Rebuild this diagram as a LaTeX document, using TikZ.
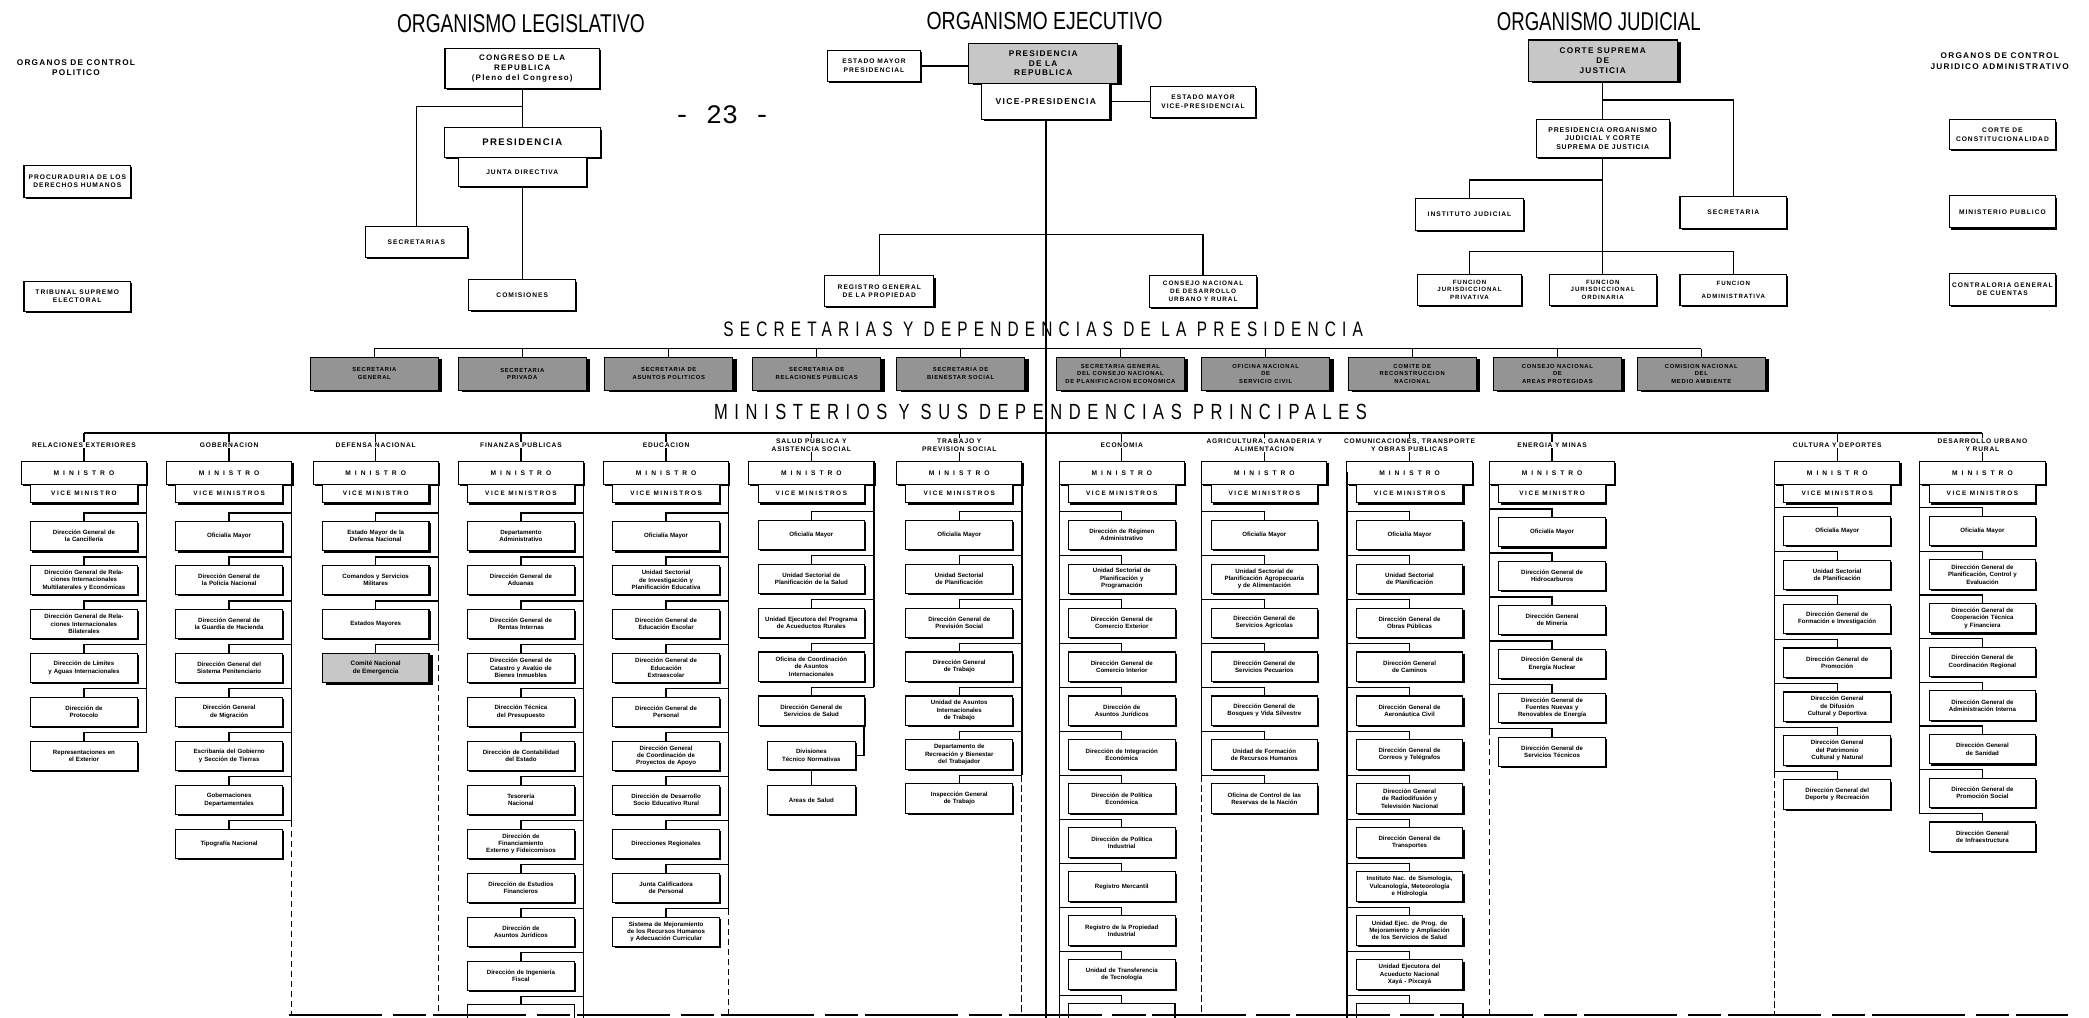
\documentclass[tikz,border=0pt]{standalone}
\usepackage{graphicx}
\usepackage{fontspec}
\setmainfont{Liberation Sans}
\setmonofont{Liberation Mono}
\newfontfamily\hdrfont[LetterSpace=12]{Liberation Sans}
\newfontfamily\minfont[LetterSpace=60]{Liberation Sans}
\newfontfamily\vicefont[LetterSpace=25]{Liberation Sans}
\newfontfamily\titfont[LetterSpace=15]{Liberation Sans}
\newfontfamily\widefont[LetterSpace=40]{Liberation Sans}
\usetikzlibrary{shadows,calc}

\tikzset{
  ln/.style={line width=1pt},
  dsh/.style={line width=0.9pt, dash pattern=on 5pt off 2.5pt},
  shd/.style={drop shadow={fill=black, opacity=1, shadow xshift=1.3pt, shadow yshift=-1.3pt}},
  hvy/.style={drop shadow={fill=black, opacity=1, shadow xshift=3pt, shadow yshift=-1.5pt}},
  box/.style={draw, line width=0.8pt, fill=white, align=center, inner sep=1pt, shd},
  lbox/.style={box, font=\titfont\fontsize{6}{7.4}\selectfont\bfseries},
  sbox/.style={box, font=\titfont\fontsize{5}{6.4}\selectfont\bfseries},
  dkbox/.style={draw, line width=0.8pt, fill=black!22, align=center, inner sep=1pt, hvy, font=\titfont\fontsize{6.2}{7.4}\selectfont\bfseries},
  secbox/.style={draw, line width=0.8pt, fill=black!42, align=center, inner sep=1pt, hvy, minimum width=96pt, minimum height=25pt, font=\hdrfont\fontsize{4.4}{5.6}\selectfont\bfseries},
  dep/.style={box, minimum width=80pt, minimum height=22pt, text width=78pt, font=\fontsize{4.6}{5.5}\selectfont\bfseries},
  minbox/.style={box, minimum width=94pt, minimum height=17pt, font=\minfont\fontsize{5}{6}\selectfont\bfseries},
  vicebox/.style={box, minimum width=80pt, minimum height=14pt, font=\vicefont\fontsize{4.8}{5.8}\selectfont\bfseries},
  hdr/.style={fill=white, inner sep=0.6pt, align=center, font=\hdrfont\fontsize{5}{5.9}\selectfont\bfseries},
  lbl/.style={align=center, inner sep=0pt, font=\titfont\fontsize{6.2}{7.8}\selectfont\bfseries},
}

% #1 id, #2 centre x, #3 trunk offset, #4 first box top, #5 pitch, #6 header, #7 vice text, #8 list
\newcommand\MinCol[8]{%
  \draw[ln] (#2,325) -- (#2,346);
  \node[hdr] (#1h) at (#2,334) {#6};
  \node[minbox, anchor=north] (#1m) at (#2,346) {MINISTRO};
  \node[vicebox, anchor=north] (#1v) at (#2,363) {#7};
  \foreach \txt [count=\nn] in {#8} {%
    \node[dep, anchor=north] (#1b\nn) at (#2,{#4+(\nn-1)*#5}) {\txt};
    \draw[ln] (#1b\nn.north) -- ++(0,-6) -- ++(#3,0);
    \xdef\lastn{\nn}%
  }
  \draw[ln] (#2+#3,354) -- (#2+#3,{#4+(\lastn-1)*#5-6});
}

\begin{document}
\begin{tikzpicture}[x=1pt,y=-1pt]
\fill[white] (0,0) rectangle (1568,764);
\useasboundingbox (0,0) rectangle (1568,764);

% ---------------- titles
\node[inner sep=0] (tleg) at (391,17.5) {\resizebox{186pt}{13.5pt}{ORGANISMO LEGISLATIVO}};
\node[inner sep=0] (texe) at (784,15.5) {\resizebox{177pt}{13pt}{ORGANISMO EJECUTIVO}};
\node[inner sep=0] (tjud) at (1200,16.5) {\resizebox{153pt}{13.5pt}{ORGANISMO JUDICIAL}};
\node[lbl] (ocp) at (57,51) {ORGANOS DE CONTROL\\POLITICO};
\node[lbl] (oca) at (1501,46) {ORGANOS DE CONTROL\\JURIDICO ADMINISTRATIVO};
\node[font=\ttfamily\fontsize{20}{20}\selectfont, inner sep=0] (pg) at (542,86) {-~23~-};

% ---------------- control politico
\node[sbox, minimum width=80pt, minimum height=24pt] (proc) at (58,136) {PROCURADURIA DE LOS\\DERECHOS HUMANOS};
\node[sbox, minimum width=80pt, minimum height=23pt] (tse) at (58,222.5) {TRIBUNAL SUPREMO\\ELECTORAL};

% ---------------- legislativo
\node[lbox, minimum width=116pt, minimum height=30pt] (cong) at (392,51.5) {CONGRESO DE LA\\REPUBLICA\\(Pleno del Congreso)};
\node[lbox, minimum width=117pt, minimum height=22pt, font=\titfont\fontsize{7.2}{8}\selectfont\bfseries] (lpres) at (392,107) {PRESIDENCIA};
\node[sbox, minimum width=96pt, minimum height=22pt] (junta) at (392,129) {JUNTA DIRECTIVA};
\node[sbox, minimum width=77pt, minimum height=23pt] (lsec) at (312.5,181.5) {SECRETARIAS};
\node[sbox, minimum width=80pt, minimum height=23pt] (comis) at (392,221.5) {COMISIONES};
\coordinate (lb) at (392,80);
\draw[ln] (cong.south) -- (lpres.north);
\draw[ln] (lsec.north) |- (lb);
\draw[ln] (junta.south) -- (comis.north);

% ---------------- ejecutivo
\node[sbox, minimum width=70pt, minimum height=23pt] (emp) at (656,49.5) {ESTADO MAYOR\\PRESIDENCIAL};
\node[dkbox, minimum width=112pt, minimum height=30pt] (rpres) at (783,47.5) {PRESIDENCIA\\DE LA\\REPUBLICA};
\node[lbox, minimum width=96pt, minimum height=27pt, font=\titfont\fontsize{6.4}{7.4}\selectfont\bfseries] (vice) at (785,76) {VICE-PRESIDENCIA};
\node[sbox, minimum width=79pt, minimum height=23pt] (emvp) at (903,76.5) {ESTADO MAYOR\\VICE-PRESIDENCIAL};
\node[sbox, minimum width=82pt, minimum height=23pt] (rgp) at (660,218.5) {REGISTRO GENERAL\\DE LA PROPIEDAD};
\node[sbox, minimum width=80pt, minimum height=24pt, font=\titfont\fontsize{4.8}{5.8}\selectfont\bfseries] (cnd) at (903,218.5) {CONSEJO NACIONAL\\DE DESARROLLO\\URBANO Y RURAL};
\coordinate (cbot) at (785,764);
\coordinate (eb) at (785,176);
\draw[ln] (emp.east) -- (emp.east -| rpres.west);
\draw[ln] (vice.east) -- (vice.east -| emvp.west);
\draw[line width=1.1pt] (vice.south) -- (cbot);
\draw[ln] (rgp.north) |- (eb) -| (cnd.north);

% ---------------- judicial
\node[dkbox, minimum width=112pt, minimum height=31pt] (csj) at (1203,45.5) {CORTE SUPREMA\\DE\\JUSTICIA};
\node[sbox, minimum width=100pt, minimum height=28pt, font=\hdrfont\fontsize{5.2}{6.4}\selectfont\bfseries] (poj) at (1203,104) {PRESIDENCIA ORGANISMO\\JUDICIAL Y CORTE\\SUPREMA DE JUSTICIA};
\node[sbox, minimum width=80pt, minimum height=24pt] (jsec) at (1301,159.5) {SECRETARIA};
\node[sbox, minimum width=81pt, minimum height=24pt] (ijud) at (1103,161) {INSTITUTO JUDICIAL};
\node[sbox, minimum width=78pt, minimum height=23pt, font=\titfont\fontsize{4.6}{5.6}\selectfont\bfseries] (fjp) at (1103,217.5) {FUNCION\\JURISDICCIONAL\\PRIVATIVA};
\node[sbox, minimum width=80pt, minimum height=23pt, font=\titfont\fontsize{4.6}{5.6}\selectfont\bfseries] (fjo) at (1203,217.5) {FUNCION\\JURISDICCIONAL\\ORDINARIA};
\node[sbox, minimum width=80pt, minimum height=23pt, font=\titfont\fontsize{4.6}{5.6}\selectfont\bfseries] (fad) at (1301,217.5) {FUNCION\\[4pt]ADMINISTRATIVA};
\coordinate (jb1) at (1203,75);
\coordinate (jb2) at (1203,135);
\coordinate (jb3) at (1203,189);
\draw[ln] (csj.south) -- (poj.north);
\draw[ln] (jb1) -| (jsec.north);
\draw[ln] (poj.south) -- (fjo.north);
\draw[ln] (jb2) -| (ijud.north);
\draw[ln] (fjp.north) |- (jb3) -| (fad.north);

% ---------------- control juridico administrativo
\node[sbox, minimum width=80pt, minimum height=22pt] (cc) at (1503,101) {CORTE DE\\CONSTITUCIONALIDAD};
\node[sbox, minimum width=80pt, minimum height=24pt] (mp) at (1503,159) {MINISTERIO PUBLICO};
\node[sbox, minimum width=80pt, minimum height=24pt] (cgc) at (1503,217) {CONTRALORIA GENERAL\\DE CUENTAS};

% ---------------- secretarias
\node[inner sep=0] (tsec) at (783,247) {\resizebox{480pt}{11pt}{\widefont SECRETARIAS Y DEPENDENCIAS DE LA PRESIDENCIA}};
\foreach \cx/\txt [count=\nn] in {281/{SECRETARIA\\GENERAL},%
392/{SECRETARIA\\PRIVADA},%
502/{SECRETARIA DE\\ASUNTOS POLITICOS},%
613/{SECRETARIA DE\\RELACIONES PUBLICAS},%
721/{SECRETARIA DE\\BIENESTAR SOCIAL},%
841/{SECRETARIA GENERAL\\DEL CONSEJO NACIONAL\\DE PLANIFICACION ECONOMICA},%
950/{OFICINA NACIONAL\\DE\\SERVICIO CIVIL},%
1060/{COMITE DE\\RECONSTRUCCION\\NACIONAL},%
1169/{CONSEJO NACIONAL\\DE\\AREAS PROTEGIDAS},%
1277/{COMISION NACIONAL\\DEL\\MEDIO AMBIENTE}} {%
  \node[secbox] (s\nn) at (\cx,280.5) {\txt};
  \draw[ln] (s\nn.north) -- ++(0,-6);
}
\draw[ln] ($(s1.north)+(0,-6)$) -- ($(s10.north)+(0,-6)$);

% ---------------- ministerios
\node[inner sep=0] (tmin) at (781,309) {\resizebox{490pt}{11.5pt}{\widefont MINISTERIOS Y SUS DEPENDENCIAS PRINCIPALES}};
\coordinate (mh1) at (63,325);
\coordinate (mh2) at (1488,325);
\draw[ln] (mh1) -- (mh2);

\MinCol{c1}{63}{47}{391}{33}{RELACIONES EXTERIORES}{VICE MINISTRO}{%
{Dirección General de\\la Cancillería},%
{Dirección General de Rela-\\ciones Internacionales\\Multilaterales y Económicas},%
{Dirección General de Rela-\\ciones Internacionales\\Bilaterales},%
{Dirección de Límites\\y Aguas Internacionales},%
{Dirección de\\Protocolo},%
{Representaciones en\\el Exterior}}

\MinCol{c2}{172}{47}{391}{33}{GOBERNACION}{VICE MINISTROS}{%
{Oficialía Mayor},%
{Dirección General de\\la Policía Nacional},%
{Dirección General de\\la Guardia de Hacienda},%
{Dirección General del\\Sistema Penitenciario},%
{Dirección General\\de Migración},%
{Escribanía del Gobierno\\y Sección de Tierras},%
{Gobernaciones\\Departamentales},%
{Tipografía Nacional}}
\draw[dsh] (219,616) -- (219,762);

\MinCol{c3}{282}{47}{391}{33}{DEFENSA NACIONAL}{VICE MINISTRO}{%
{Estado Mayor de la\\Defensa Nacional},%
{Comandos y Servicios\\Militares},%
{Estados Mayores}}
\node[dkbox, anchor=north, minimum width=80pt, minimum height=22pt, font=\fontsize{4.8}{5.8}\selectfont\bfseries] (c3b4) at (282,490) {Comité Nacional\\de Emergencia};
\draw[ln] (c3b4.north) -- ++(0,-6) -- ++(47,0);
\draw[ln] (329,451) -- (329,484);
\draw[dsh] (329,484) -- (329,762);

\MinCol{c4}{391}{47}{391}{33}{FINANZAS PUBLICAS}{VICE MINISTROS}{%
{Departamento\\Administrativo},%
{Dirección General de\\Aduanas},%
{Dirección General de\\Rentas Internas},%
{Dirección General de\\Catastro y Avalúo de\\Bienes Inmuebles},%
{Dirección Técnica\\del Presupuesto},%
{Dirección de Contabilidad\\del Estado},%
{Tesorería\\Nacional},%
{Dirección de\\Financiamiento\\Externo y Fideicomisos},%
{Dirección de Estudios\\Financieros},%
{Dirección de\\Asuntos Jurídicos},%
{Dirección de Ingeniería\\Fiscal}}
\draw[ln] (438,715) -- (438,764);
\draw[ln] (351,764) -- (351,754) -- (431,754) -- (431,764);
\draw[ln] (391,754) -- (391,748) -- (438,748);

\MinCol{c5}{500}{47}{391}{33}{EDUCACION}{VICE MINISTROS}{%
{Oficialía Mayor},%
{Unidad Sectorial\\de Investigación y\\Planificación Educativa},%
{Dirección General de\\Educación Escolar},%
{Dirección General de\\Educación\\Extraescolar},%
{Dirección General de\\Personal},%
{Dirección General\\de Coordinación de\\Proyectos de Apoyo},%
{Dirección de Desarrollo\\Socio Educativo Rural},%
{Direcciones Regionales},%
{Junta Calificadora\\de Personal},%
{Sistema de Mejoramiento\\de los Recursos Humanos\\y Adecuación Curricular}}
\draw[dsh] (547,682) -- (547,762);

\MinCol{c6}{609}{47}{390}{33}{SALUD PUBLICA Y\\ASISTENCIA SOCIAL}{VICE MINISTROS}{%
{Oficialía Mayor},%
{Unidad Sectorial de\\Planificación de la Salud},%
{Unidad Ejecutora del Programa\\de Acueductos Rurales},%
{Oficina de Coordinación\\de Asuntos\\Internacionales},%
{Dirección General de\\Servicios de Salud}}
\node[dep, anchor=north, minimum width=66pt, text width=64pt, minimum height=21pt] (c6b6) at (609,556) {Divisiones\\Técnico Normativas};
\node[dep, anchor=north, minimum width=66pt, text width=64pt, minimum height=22pt] (c6b7) at (609,589) {Areas de Salud};
\draw[ln] (c6b6.east) -- ++(6,0) coordinate (c6q) -- (c6q |- c6b5.south);
\draw[ln] (c6b6.south) -- (c6b7.north);

\MinCol{c7}{720}{47}{390}{33}{TRABAJO Y\\PREVISION SOCIAL}{VICE MINISTROS}{%
{Oficialía Mayor},%
{Unidad Sectorial\\de Planificación},%
{Dirección General de\\Previsión Social},%
{Dirección General\\de Trabajo},%
{Unidad de Asuntos\\Internacionales\\de Trabajo},%
{Departamento de\\Recreación y Bienestar\\del Trabajador},%
{Inspección General\\de Trabajo}}
\draw[dsh] (767,582) -- (767,762);

\MinCol{c8}{842}{-47}{390}{33}{ECONOMIA}{VICE MINISTROS}{%
{Dirección de Régimen\\Administrativo},%
{Unidad Sectorial de\\Planificación y\\Programación},%
{Dirección General de\\Comercio Exterior},%
{Dirección General de\\Comercio Interior},%
{Dirección de\\Asuntos Jurídicos},%
{Dirección de Integración\\Económica},%
{Dirección de Política\\Económica},%
{Dirección de Política\\Industrial},%
{Registro Mercantil},%
{Registro de la Propiedad\\Industrial},%
{Unidad de Transferencia\\de Tecnología}}
\draw[ln] (795,714) -- (795,764);
\draw[ln] (802,764) -- (802,753) -- (882,753) -- (882,764);
\draw[ln] (842,753) -- (842,747) -- (795,747);

\MinCol{c9}{949}{-47}{390}{33}{AGRICULTURA, GANADERIA Y\\ALIMENTACION}{VICE MINISTROS}{%
{Oficialía Mayor},%
{Unidad Sectorial de\\Planificación Agropecuaria\\y de Alimentación},%
{Dirección General de\\Servicios Agrícolas},%
{Dirección General de\\Servicios Pecuarios},%
{Dirección General de\\Bosques y Vida Silvestre},%
{Unidad de Formación\\de Recursos Humanos},%
{Oficina de Control de las\\Reservas de la Nación}}
\draw[dsh] (902,582) -- (902,762);

\MinCol{c10}{1058}{-47}{390}{33}{COMUNICACIONES, TRANSPORTE\\Y OBRAS PUBLICAS}{VICE MINISTROS}{%
{Oficialía Mayor},%
{Unidad Sectorial\\de Planificación},%
{Dirección General de\\Obras Públicas},%
{Dirección General\\de Caminos},%
{Dirección General de\\Aeronáutica Civil},%
{Dirección General de\\Correos y Telégrafos},%
{Dirección General\\de Radiodifusión y\\Televisión Nacional},%
{Dirección General de\\Transportes},%
{Instituto Nac. de Sismología,\\Vulcanología, Meteorología\\e Hidrología},%
{Unidad Ejec. de Prog. de\\Mejoramiento y Ampliación\\de los Servicios de Salud},%
{Unidad Ejecutora del\\Acueducto Nacional\\Xayá - Pixcayá}}
\draw[ln] (1011,714) -- (1011,764);
\draw[ln] (1018,764) -- (1018,753) -- (1098,753) -- (1098,764);
\draw[ln] (1058,753) -- (1058,747) -- (1011,747);

\MinCol{c11}{1165}{-47}{388}{33}{ENERGIA Y MINAS}{VICE MINISTRO}{%
{Oficialía Mayor},%
{Dirección General de\\Hidrocarburos},%
{Dirección General\\de Minería},%
{Dirección General de\\Energía Nuclear},%
{Dirección General de\\Fuentes Nuevas y\\Renovables de Energía},%
{Dirección General de\\Servicios Técnicos}}
\draw[dsh] (1118,547) -- (1118,762);

\MinCol{c12}{1379}{-47}{387}{33}{CULTURA Y DEPORTES}{VICE MINISTROS}{%
{Oficialía Mayor},%
{Unidad Sectorial\\de Planificación},%
{Dirección General de\\Formación e Investigación},%
{Dirección General de\\Promoción},%
{Dirección General\\de Difusión\\Cultural y Deportiva},%
{Dirección General\\del Patrimonio\\Cultural y Natural},%
{Dirección General del\\Deporte y Recreación}}
\draw[dsh] (1332,579) -- (1332,762);

\MinCol{c13}{1488}{-47}{387}{32.8}{DESARROLLO URBANO\\Y RURAL}{VICE MINISTROS}{%
{Oficialía Mayor},%
{Dirección General de\\Planificación, Control y\\Evaluación},%
{Dirección General de\\Cooperación Técnica\\y Financiera},%
{Dirección General de\\Coordinación Regional},%
{Dirección General de\\Administración Interna},%
{Dirección General\\de Sanidad},%
{Dirección General de\\Promoción Social},%
{Dirección General\\de Infraestructura}}

% bottom continuation line
\draw[line width=1.8pt, dash pattern=on 70pt off 8pt on 25pt off 5pt] (217,762) -- (1552,762);
\end{tikzpicture}
\end{document}
